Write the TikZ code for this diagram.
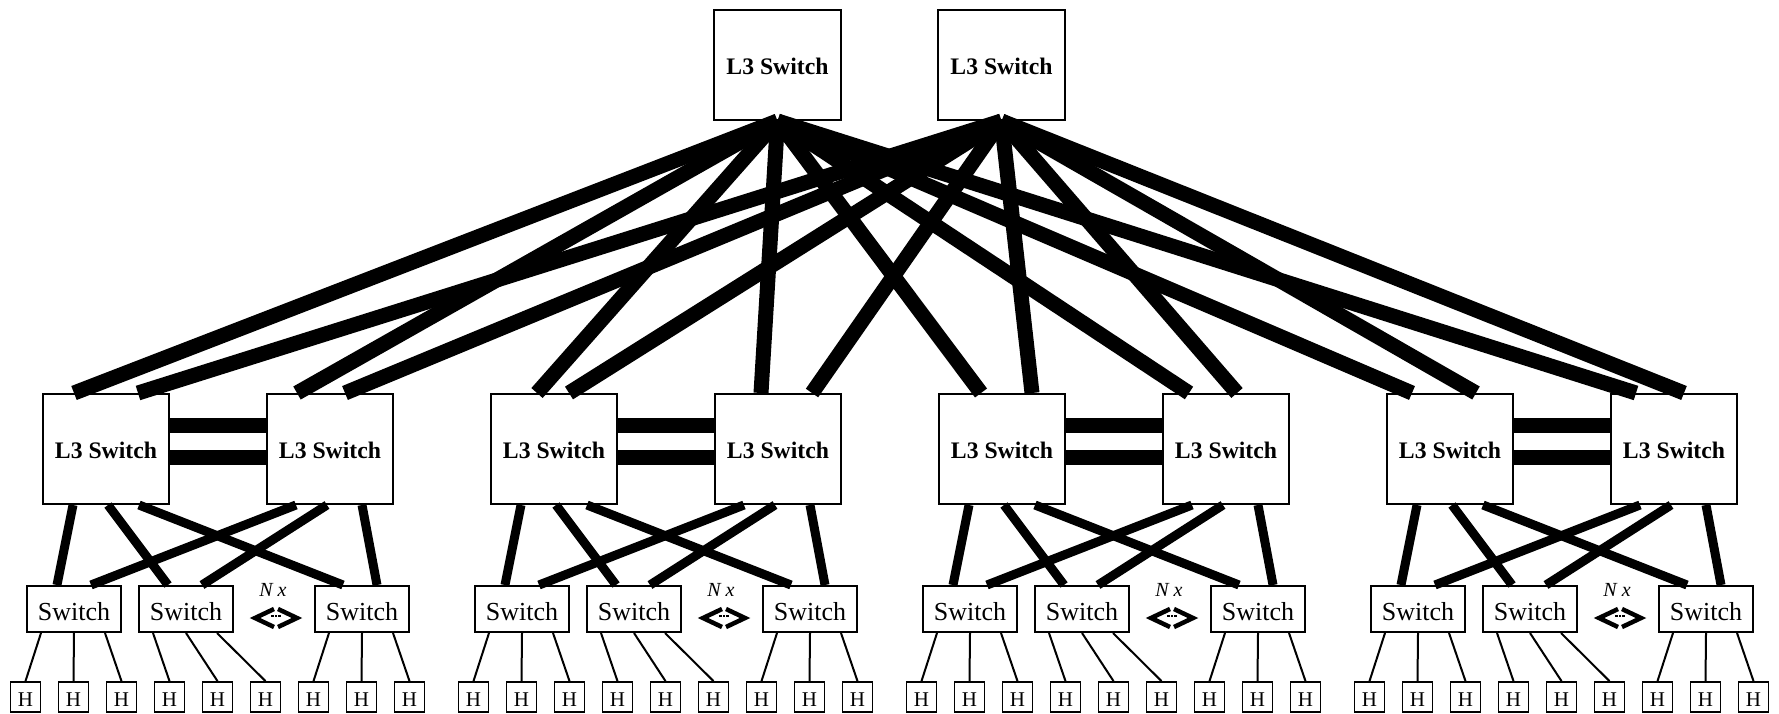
\documentclass[tikz,border=0pt]{standalone}
\usepackage{fontspec}
\setmainfont{Liberation Serif}
\begin{document}
\begin{tikzpicture}[x=1pt,y=-1pt,
  l3/.style={draw, line width=2pt, minimum width=126pt, minimum height=110pt, inner sep=0pt, text height=20pt, font=\fontsize{23.7}{28}\selectfont\bfseries},
  sw/.style={draw, line width=2pt, minimum width=94pt, minimum height=46pt, inner sep=0pt, text height=24pt, font=\fontsize{26}{30}\selectfont},
  host/.style={draw, line width=1.8pt, minimum size=30pt, inner sep=0pt, text height=18pt, font=\fontsize{21}{24}\selectfont},
  uplink/.style={line width=15pt},
  trunk/.style={line width=15pt},
  downlink/.style={line width=9pt},
  hlink/.style={line width=2pt},
  chev/.style={line width=4.5pt, miter limit=10},
  nxlabel/.style={inner sep=0pt, font=\fontsize{20}{22}\selectfont\itshape}]
\useasboundingbox (0,0) rectangle (1779,714);
\node[l3, minimum width=127pt] (t1) at (777.5,65) {L3 Switch};
\node[l3, minimum width=127pt] (t2) at (1001.5,65) {L3 Switch};
\foreach \k in {0,1,2,3}{
  \pgfmathsetmacro\o{448*\k}
  \node[l3] (p\k-a) at (\o+106,449) {L3 Switch};
  \node[l3] (p\k-b) at (\o+330,449) {L3 Switch};
  \node[sw] (s\k-1) at (\o+74,609) {Switch};
  \node[sw] (s\k-2) at (\o+186,609) {Switch};
  \node[sw] (s\k-3) at (\o+362,609) {Switch};
  \foreach \j in {0,...,8}{
    \node[host] (h\k-\j) at (\o+25.5+48*\j,697) {H};
  }
  \node[nxlabel] (nx\k) at (\o+273,590) {N x};
  \coordinate (d\k) at (\o+276,618);
  % trunks
  \draw[trunk] ([yshift=24pt]p\k-a.east) -- ([yshift=24pt]p\k-b.west);
  \draw[trunk] ([yshift=-8pt]p\k-a.east) -- ([yshift=-8pt]p\k-b.west);
  % downlinks
  \draw[downlink] ([xshift=31pt]p\k-a.south west) -- ([xshift=31pt]s\k-1.north west);
  \draw[downlink] ([xshift=66pt]p\k-a.south west) -- ([xshift=30pt]s\k-2.north west);
  \draw[downlink] ([xshift=97pt]p\k-a.south west) -- ([xshift=29pt]s\k-3.north west);
  \draw[downlink] ([xshift=30pt]p\k-b.south west) -- ([xshift=65pt]s\k-1.north west);
  \draw[downlink] ([xshift=61pt]p\k-b.south west) -- ([xshift=64pt]s\k-2.north west);
  \draw[downlink] ([xshift=96pt]p\k-b.south west) -- ([xshift=63pt]s\k-3.north west);
  % host links
  \draw[hlink] ([xshift=15pt]s\k-1.south west) -- (h\k-0.north);
  \draw[hlink] (s\k-1.south) -- (h\k-1.north);
  \draw[hlink] ([xshift=79pt]s\k-1.south west) -- (h\k-2.north);
  \draw[hlink] ([xshift=15pt]s\k-2.south west) -- (h\k-3.north);
  \draw[hlink] (s\k-2.south) -- (h\k-4.north);
  \draw[hlink] ([xshift=79pt]s\k-2.south west) -- (h\k-5.north);
  \draw[hlink] ([xshift=15pt]s\k-3.south west) -- (h\k-6.north);
  \draw[hlink] (s\k-3.south) -- (h\k-7.north);
  \draw[hlink] ([xshift=79pt]s\k-3.south west) -- (h\k-8.north);
  % N x symbol
  \draw[chev] (d\k) ++(-2,-9) -- ++(-19,9) -- ++(19,9);
  \draw[chev] (d\k) ++(2,-9) -- ++(19,9) -- ++(-19,9);
  \foreach \dx in {-3.5,0,3.5}{
    \fill (d\k) ++(\dx-1.2,-3.2) rectangle ++(2.4,2.6);
  }
}
\foreach \n/\a/\b in {p0-a/32/96, p0-b/31/79, p1-a/47/79, p1-b/47/98, p2-a/43/94, p2-b/27/75, p3-a/26/90, p3-b/26/74}{
  \draw[uplink] (t1.south) -- ([xshift=\a pt]\n.north west);
  \draw[uplink] (t2.south) -- ([xshift=\b pt]\n.north west);
}
\end{tikzpicture}
\end{document}
